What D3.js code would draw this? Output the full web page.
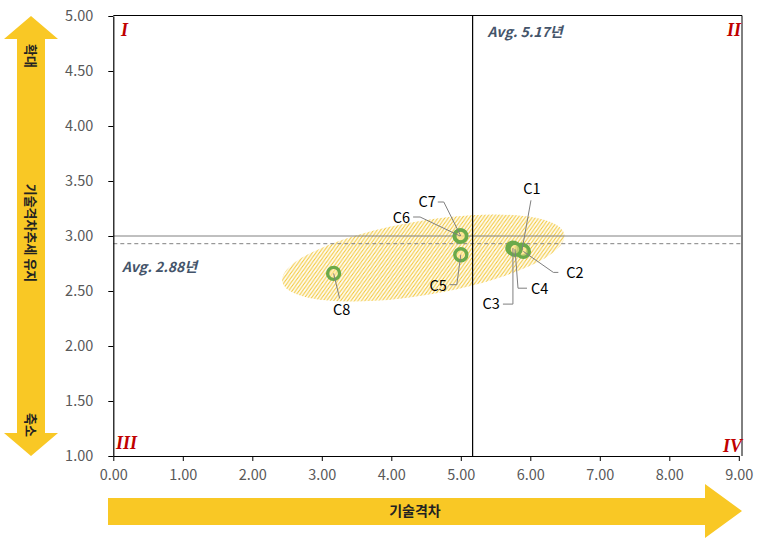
<!DOCTYPE html>
<html><head><meta charset="utf-8">
<script src="https://cdn.jsdelivr.net/npm/d3@7"></script>
<style>html,body{margin:0;padding:0;background:#fff;}svg{display:block;}</style>
</head><body>
<svg id="chart" width="766" height="546"></svg>
<script>
// ---- data ----
const names = ["C1","C2","C3","C4","C5","C6","C7","C8"];
const gapX = [5.88, 5.90, 5.75, 5.78, 5.00, 4.99, 5.00, 3.17];
const trendY = [2.87, 2.86, 2.89, 2.88, 2.83, 3.00, 3.00, 2.66];
const xTicks = [0,1,2,3,4,5,6,7,8,9];
const yTicks = [1.0,1.5,2.0,2.5,3.0,3.5,4.0,4.5,5.0];
const avgX = 5.17;
const avgY = 2.88;
const refY = 3.00;        // solid horizontal reference
const dashedY = 2.93;     // dashed horizontal line as drawn
const quadrants = ["I","II","III","IV"];
const xTitle = "기술격차";
const yTitle = "기술격차추세 유지";
const yTop = "확대", yBottom = "축소";

// ---- layout ----
const svg = d3.select("#chart");
const L = 113.3, R = 738.8, T = 16, B = 456;
const x = d3.scaleLinear().domain([0,9]).range([L,R]);
const y = d3.scaleLinear().domain([1,5]).range([B,T]);
const font = "'Noto Sans CJK KR','Noto Sans',sans-serif";
const yellow = "#F9C825";

svg.append("rect").attr("width",766).attr("height",546).attr("fill","#fff");

// hatch pattern
const defs = svg.append("defs");
const pat = defs.append("pattern").attr("id","hatch").attr("patternUnits","userSpaceOnUse")
  .attr("width",4).attr("height",4);
pat.append("path").attr("d","M-1,1 l2,-2 M0,4 l4,-4 M3,5 l2,-2")
  .attr("stroke","#F2C530").attr("stroke-width",1.1);

// ellipse region (decorative)
svg.append("ellipse")
  .attr("transform",`translate(${x(4.46)},${y(2.80)}) rotate(-9.5)`)
  .attr("rx",143).attr("ry",37).attr("fill","url(#hatch)");

// frame top & right
svg.append("line").attr("x1",L).attr("x2",742).attr("y1",T-0.5).attr("y2",T-0.5).attr("stroke","#000").attr("stroke-width",1);
svg.append("line").attr("x1",742).attr("x2",742).attr("y1",T-0.5).attr("y2",B).attr("stroke","#000").attr("stroke-width",1);

// reference lines
svg.append("line").attr("x1",L).attr("x2",742).attr("y1",y(refY)).attr("y2",y(refY))
  .attr("stroke","#808080").attr("stroke-width",1);
svg.append("line").attr("x1",L).attr("x2",742).attr("y1",y(dashedY)).attr("y2",y(dashedY))
  .attr("stroke","#808080").attr("stroke-width",1).attr("stroke-dasharray","4,3");
svg.append("line").attr("x1",x(avgX)).attr("x2",x(avgX)).attr("y1",T).attr("y2",B)
  .attr("stroke","#000").attr("stroke-width",1.2);

// axes
const xAxis = svg.append("g").attr("transform",`translate(0,${B})`)
  .call(d3.axisBottom(x).tickValues(xTicks).tickFormat(d3.format(".2f")).tickSize(5).tickSizeOuter(0));
const yAxis = svg.append("g").attr("transform",`translate(${L},0)`)
  .call(d3.axisLeft(y).tickValues(yTicks).tickFormat(d3.format(".2f")).tickSize(5).tickSizeOuter(0));
[xAxis,yAxis].forEach(g=>{
  g.select(".domain").attr("stroke","#000").attr("stroke-width",1.2);
  g.selectAll(".tick line").attr("stroke","#000");
  g.selectAll(".tick text").attr("fill","#595959").attr("font-family",font).attr("font-size",14.5);
});
xAxis.selectAll(".tick text").attr("dy","1.05em").attr("y",9);
yAxis.selectAll(".tick text").attr("x",-20);

// quadrant labels
const qPos = [[121,36,"start"],[741,36,"end"],[116,449,"start"],[742,452,"end"]];
svg.selectAll(".quad").data(quadrants).join("text")
  .attr("x",(d,i)=>qPos[i][0]).attr("y",(d,i)=>qPos[i][1]).attr("text-anchor",(d,i)=>qPos[i][2])
  .attr("font-family","'Liberation Serif',serif").attr("font-weight","bold").attr("font-style","italic")
  .attr("font-size",18).attr("fill","#C00000").text(d=>d);

// avg labels
svg.append("text").attr("x",x(avgX)+15).attr("y",37).attr("font-family",font).attr("font-size",14)
  .attr("font-weight","bold").attr("font-style","italic").attr("fill","#44546A").text(`Avg. ${avgX.toFixed(2)}년`);
svg.append("text").attr("x",122).attr("y",272).attr("font-family",font).attr("font-size",14)
  .attr("font-weight","bold").attr("font-style","italic").attr("fill","#44546A").text(`Avg. ${avgY.toFixed(2)}년`);

// leader lines and labels (offsets relative to point, px)
const leaders = {
  C1:{pts:[[9,-50]], t:[10,-56,"middle"]},
  C2:{pts:[[30,21],[35,21]], t:[43,27,"start"]},
  C3:{pts:[[0,56],[-10,56]], t:[-13,61,"end"]},
  C4:{pts:[[3,39],[12,39]], t:[16,45,"start"]},
  C5:{pts:[[-4,30],[-11,30]], t:[-14,36,"end"]},
  C6:{pts:[[-40,-19],[-47,-19]], t:[-50,-13,"end"]},
  C7:{pts:[[-17,-34],[-23,-34]], t:[-25,-29,"end"]},
  C8:{pts:[[6,25]], t:[8,42,"middle"]}
};
const pts = names.map((n,i)=>({n, cx:x(gapX[i]), cy:y(trendY[i])}));

const mk = svg.append("g");
mk.selectAll("circle").data(pts).join("circle")
  .attr("cx",d=>d.cx).attr("cy",d=>d.cy).attr("r",6)
  .attr("fill","rgba(255,230,140,0.55)").attr("stroke","#6BAA4A").attr("stroke-width",3.4);

const lg = svg.append("g");
pts.forEach(p=>{
  const l = leaders[p.n];
  const poly = [[p.cx,p.cy]].concat(l.pts.map(q=>[p.cx+q[0],p.cy+q[1]]));
  lg.append("path").attr("d",d3.line()(poly)).attr("fill","none").attr("stroke","#7F7F7F").attr("stroke-width",1);
  lg.append("text").attr("x",p.cx+l.t[0]).attr("y",p.cy+l.t[1]).attr("text-anchor",l.t[2])
    .attr("font-family",font).attr("font-size",14.5).attr("fill","#000").text(p.n);
});

// left vertical double arrow
const ax = 31;
svg.append("path").attr("d",
  `M${ax},16 L58,39 L45,39 L45,433 L58,433 L${ax},456 L4,433 L17,433 L17,39 L4,39 Z`)
  .attr("fill",yellow);
function vText(txt, cy){
  svg.append("text").attr("transform",`translate(${ax},${cy}) rotate(90)`)
    .attr("text-anchor","middle").attr("dy","0.35em").attr("font-family",font).attr("font-size",13)
    .attr("font-weight","bold").attr("fill","#222").text(txt);
}
vText(yTop, 56);
vText(yTitle, 233);
vText(yBottom, 425);

// bottom arrow
svg.append("path").attr("d","M108,498 L705,498 L705,484 L742,511 L705,538 L705,525 L108,525 Z").attr("fill",yellow);
svg.append("text").attr("x",415).attr("y",511).attr("dy","0.35em").attr("text-anchor","middle")
  .attr("font-family",font).attr("font-size",14).attr("font-weight","bold").attr("fill","#222").text(xTitle);
</script>
</body></html>
